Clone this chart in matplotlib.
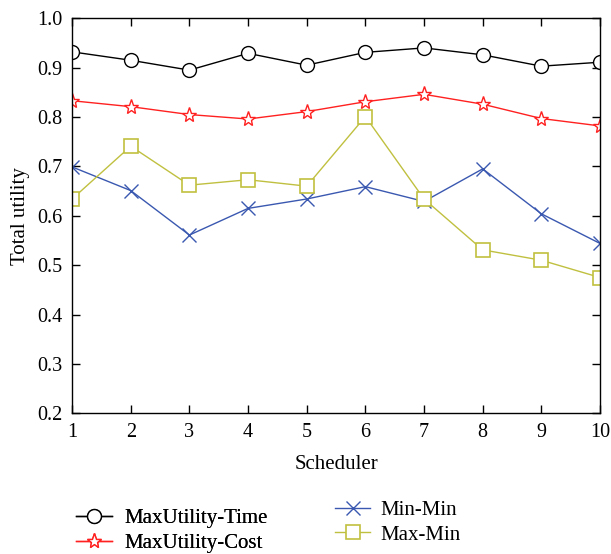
import numpy as np
import matplotlib.pyplot as plt

plt.rcParams['font.family'] = ['Liberation Serif', 'DejaVu Serif']

sched = np.arange(1, 11)
util_time = [0.932, 0.915, 0.895, 0.929, 0.905, 0.931, 0.940, 0.926, 0.903, 0.911]
util_cost = [0.833, 0.821, 0.805, 0.796, 0.811, 0.831, 0.846, 0.826, 0.797, 0.782]
min_min = [0.699, 0.651, 0.561, 0.615, 0.634, 0.659, 0.629, 0.695, 0.604, 0.544]
max_min = [0.634, 0.741, 0.662, 0.673, 0.660, 0.801, 0.634, 0.531, 0.510, 0.475]

fig = plt.figure(figsize=(6.11, 5.54), dpi=100)
ax = fig.add_axes([0.118, 0.254, 0.864, 0.713])

l1, = ax.plot(sched, util_time, c='k', lw=1, marker='o', ms=10, mfc='white', mec='k', mew=1, label='MaxUtility-Time')
l2, = ax.plot(sched, util_cost, c='#ff2020', lw=1, marker='*', ms=11, mfc='white', mec='#ff2020', mew=1, label='MaxUtility-Cost')
l3, = ax.plot(sched, min_min, c='#3a58b0', lw=1, marker='x', ms=10, mew=1, label='Min-Min')
l4, = ax.plot(sched, max_min, c='#c0c040', lw=1, marker='s', ms=10, mfc='white', mec='#c0c040', mew=1.2, label='Max-Min')

ax.set_xlim(1, 10)
ax.set_ylim(0.2, 1.0)
ax.set_xticks(sched)
ax.set_yticks(np.arange(0.2, 1.01, 0.1))
ax.yaxis.set_major_formatter(plt.FuncFormatter(lambda v, p: '%.1f' % v))
ax.tick_params(direction='in', top=True, right=True, length=6, width=1, labelsize=14.5)
ax.tick_params(axis='x', pad=7)
ax.tick_params(axis='y', pad=7)
for s in ax.spines.values():
    s.set_linewidth(1)
ax.set_xlabel('Scheduler', fontsize=15, labelpad=9)
ax.set_ylabel('Total utility', fontsize=15, labelpad=5)

kw = dict(loc='upper left', frameon=False, fontsize=15, handlelength=1.7,
          labelspacing=0.25, borderaxespad=0, borderpad=0)
leg1 = fig.legend(handles=[l1, l2], bbox_to_anchor=(0.125, 0.082), handletextpad=0.6, **kw)
leg2 = fig.legend(handles=[l3, l4], bbox_to_anchor=(0.548, 0.097), handletextpad=0.5, **kw)
fig.add_artist(leg1)

plt.savefig('out.png', dpi=100)
